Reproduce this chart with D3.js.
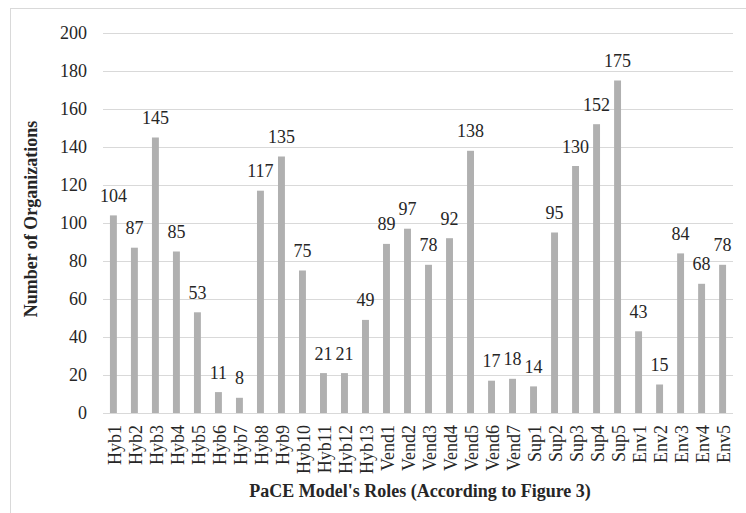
<!DOCTYPE html>
<html>
<head>
<meta charset="utf-8">
<script src="https://cdn.jsdelivr.net/npm/d3@7"></script>
<style>
  body { margin: 0; background: #fff; }
  text { font-family: "Liberation Serif", "Times New Roman", serif; fill: #262626; }
</style>
</head>
<body>
<script>
const roles = ["Hyb1", "Hyb2", "Hyb3", "Hyb4", "Hyb5", "Hyb6", "Hyb7", "Hyb8", "Hyb9", "Hyb10",
    "Hyb11", "Hyb12", "Hyb13", "Vend1", "Vend2", "Vend3", "Vend4", "Vend5", "Vend6", "Vend7",
    "Sup1", "Sup2", "Sup3", "Sup4", "Sup5", "Env1", "Env2", "Env3", "Env4", "Env5"];
const counts = [104, 87, 145, 85, 53, 11, 8, 117, 135, 75,
    21, 21, 49, 89, 97, 78, 92, 138, 17, 18,
    14, 95, 130, 152, 175, 43, 15, 84, 68, 78];
const yTicks = [0, 20, 40, 60, 80, 100, 120, 140, 160, 180, 200];
const xTitle = "PaCE Model's Roles (According to Figure 3)";
const yTitle = "Number of Organizations";

const width = 746;
const height = 513;
const margin = { top: 33, right: 13, bottom: 100, left: 103 };

const svg = d3.select("body").append("svg")
    .attr("width", width)
    .attr("height", height);

// chart border (runs off the right and bottom edge in the original)
svg.append("rect")
    .attr("x", 10.5)
    .attr("y", 8.5)
    .attr("width", 760)
    .attr("height", 520)
    .attr("fill", "none")
    .attr("stroke", "#d9d9d9")
    .attr("stroke-width", 1);

const x = d3.scaleBand()
    .domain(roles)
    .range([margin.left, width - margin.right])
    .paddingInner(0.67)
    .paddingOuter(0.33);

const y = d3.scaleLinear()
    .domain([0, 200])
    .range([height - margin.bottom, margin.top]);

// gridlines
svg.append("g")
    .selectAll("line")
    .data(yTicks)
    .enter().append("line")
    .attr("x1", margin.left)
    .attr("x2", width - margin.right)
    .attr("y1", d => Math.round(y(d)) + 0.5)
    .attr("y2", d => Math.round(y(d)) + 0.5)
    .attr("stroke", "#d9d9d9")
    .attr("stroke-width", 1);

// y tick labels
svg.append("g")
    .selectAll("text")
    .data(yTicks)
    .enter().append("text")
    .attr("x", 87)
    .attr("y", d => y(d))
    .attr("dy", "0.35em")
    .attr("text-anchor", "end")
    .attr("font-size", 18)
    .text(d => d);

// bars
svg.append("g")
    .selectAll("rect")
    .data(counts)
    .enter().append("rect")
    .attr("x", (d, i) => x(roles[i]))
    .attr("y", d => y(d))
    .attr("width", x.bandwidth())
    .attr("height", d => y(0) - y(d))
    .attr("fill", "#b0b0b0");

// value labels
svg.append("g")
    .selectAll("text")
    .data(counts)
    .enter().append("text")
    .attr("x", (d, i) => x(roles[i]) + x.bandwidth() / 2)
    .attr("y", d => y(d) - 13.5)
    .attr("text-anchor", "middle")
    .attr("font-size", 18)
    .text(d => d);

// x tick labels, rotated
svg.append("g")
    .selectAll("text")
    .data(roles)
    .enter().append("text")
    .attr("transform", d => `translate(${x(d) + x.bandwidth() / 2 + 1}, ${y(0) + 12}) rotate(-90)`)
    .attr("dy", "0.35em")
    .attr("text-anchor", "end")
    .attr("font-size", 18)
    .text(d => d);

// axis titles
svg.append("text")
    .attr("x", (margin.left + width - margin.right) / 2 + 2)
    .attr("y", 497)
    .attr("text-anchor", "middle")
    .attr("font-size", 18)
    .attr("font-weight", "bold")
    .text(xTitle);

svg.append("text")
    .attr("transform", "translate(37, 219) rotate(-90)")
    .attr("text-anchor", "middle")
    .attr("font-size", 18)
    .attr("font-weight", "bold")
    .text(yTitle);
</script>
</body>
</html>
